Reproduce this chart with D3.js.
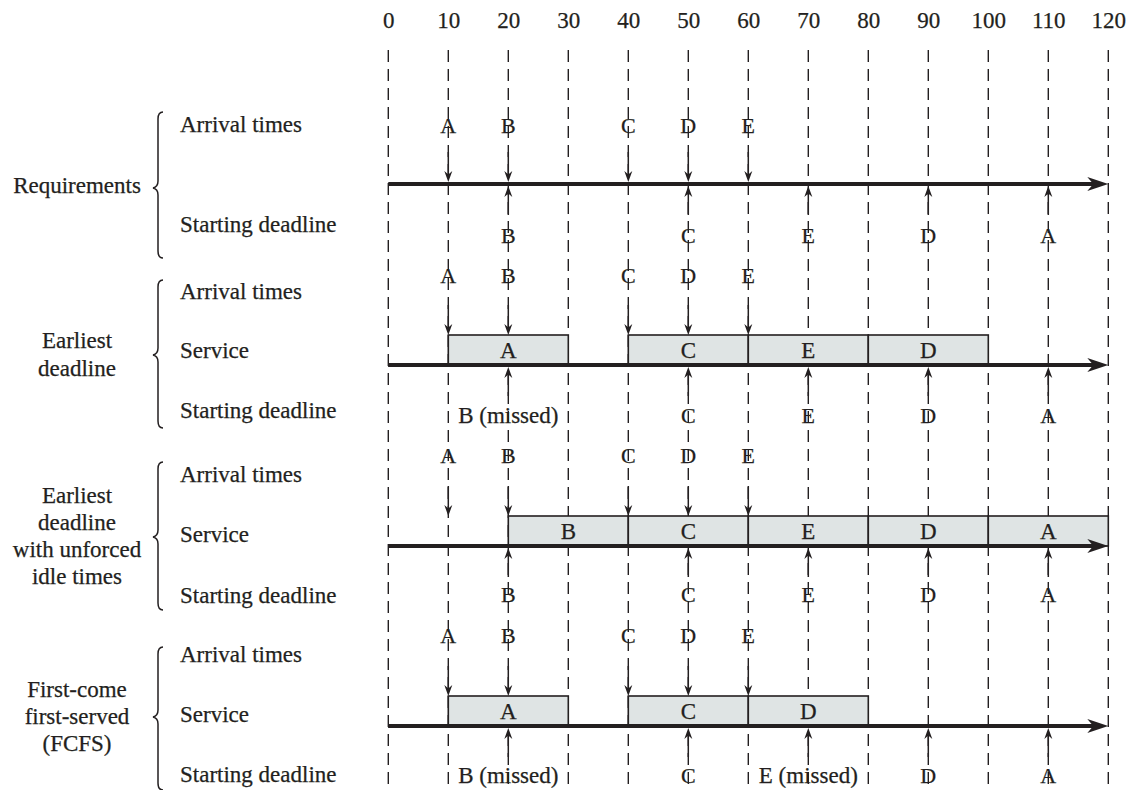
<!DOCTYPE html>
<html><head><meta charset="utf-8">
<script src="https://cdn.jsdelivr.net/npm/d3@7"></script>
<style>body{margin:0;background:#fff;} svg{display:block;} text{font-family:"Liberation Serif","Times New Roman",serif;fill:#231f20;stroke:#231f20;stroke-width:0.25;}</style>
</head><body><svg id="c" width="1133" height="790"></svg>
<script>
// ---------- data ----------
const tickLabels = [0,10,20,30,40,50,60,70,80,90,100,110,120];
const arrivalJobs = ["A","B","C","D","E"];
const arrivalTimes = [10,20,40,50,60];
const deadlineTimes = [20,50,70,90,110];
const reqDeadlineLabels  = ["B","C","E","D","A"];
const edDeadlineLabels   = ["B (missed)","C","E","D","A"];
const eduDeadlineLabels  = ["B","C","E","D","A"];
const fcfsDeadlineLabels = ["B (missed)","C","E (missed)","D","A"];
const edServiceJobs  = ["A","C","E","D"];
const edServiceStart = [10,40,60,80];
const edServiceEnd   = [30,60,80,100];
const eduServiceJobs  = ["B","C","E","D","A"];
const eduServiceStart = [20,40,60,80,100];
const eduServiceEnd   = [40,60,80,100,120];
const fcfsServiceJobs  = ["A","C","D"];
const fcfsServiceStart = [10,40,60];
const fcfsServiceEnd   = [30,60,80];
const groupNames = [["Requirements"],["Earliest","deadline"],["Earliest","deadline","with unforced","idle times"],["First-come","first-served","(FCFS)"]];
const rowNames = [["Arrival times","Starting deadline"],["Arrival times","Service","Starting deadline"],["Arrival times","Service","Starting deadline"],["Arrival times","Service","Starting deadline"]];

// ---------- layout ----------
const ink = "#231f20", barFill = "#dfe4e4";
const FS = 23;
const sections = [
  {axis:184, arrLab:133, dlLab:243, rows:[132,232], brace:[112,258], tip:188, groupY:[193], service:null, dl:reqDeadlineLabels},
  {axis:365, arrLab:283, dlLab:423, rows:[299,358,418], brace:[280,428], tip:355, groupY:[348,376], service:[edServiceJobs,edServiceStart,edServiceEnd], dl:edDeadlineLabels},
  {axis:546, arrLab:463, dlLab:602, rows:[482,542,603], brace:[462,610], tip:537, groupY:[503,530,557,584], service:[eduServiceJobs,eduServiceStart,eduServiceEnd], dl:eduDeadlineLabels},
  {axis:726, arrLab:643, dlLab:783, rows:[662,722,782], brace:[647,790], tip:717, groupY:[697,724,751], service:[fcfsServiceJobs,fcfsServiceStart,fcfsServiceEnd], dl:fcfsDeadlineLabels}
];
const x = d3.scaleLinear().domain([0,120]).range([388.3,1108.3]);
const svg = d3.select("#c");

// top axis labels
const ax = svg.append("g").attr("transform","translate(0,28)")
  .call(d3.axisTop(x).tickValues(tickLabels).tickSize(0).tickPadding(0).tickFormat(d3.format("d")));
ax.select(".domain").remove();
ax.selectAll("text").attr("font-size",FS).attr("font-family","Liberation Serif").attr("fill",ink).attr("stroke",ink).attr("stroke-width",0.25).attr("dy",0);

const gText = svg.append("g"), gDash = svg.append("g"), gBars = svg.append("g"), gAxis = svg.append("g"), gArr = svg.append("g");

function head(g, tx, ty, dir){ // dir: 1 pointing down, -1 pointing up
  const L=11, W=4, N=3.5;
  g.append("path").attr("d",`M${tx},${ty} L${tx-W},${ty-dir*L} L${tx},${ty-dir*(L-N)} L${tx+W},${ty-dir*L} Z`).attr("fill",ink);
}

sections.forEach((s,i)=>{
  groupNames[i].forEach((t,j)=> gText.append("text").attr("x",77).attr("y",s.groupY[j]).attr("text-anchor","middle").attr("font-size",FS).text(t));
  rowNames[i].forEach((t,j)=> gText.append("text").attr("x",180).attr("y",s.rows[j]).attr("font-size",FS).text(t));
  const bx=158, [t0,t1]=s.brace, tp=s.tip;
  gText.append("path").attr("d",`M${bx+5},${t0} Q${bx},${t0} ${bx},${t0+7} L${bx},${tp-7} Q${bx},${tp-1} ${bx-5},${tp} Q${bx},${tp+1} ${bx},${tp+7} L${bx},${t1-7} Q${bx},${t1} ${bx+5},${t1}`)
    .attr("fill","none").attr("stroke",ink).attr("stroke-width",1.5);
  arrivalJobs.forEach((j,k)=> gText.append("text").attr("x",x(arrivalTimes[k])).attr("y",s.arrLab).attr("text-anchor","middle").attr("font-size",FS-1).text(j));
  s.dl.forEach((j,k)=> gText.append("text").attr("x",x(deadlineTimes[k])).attr("y",s.dlLab).attr("text-anchor","middle").attr("font-size",j.length>1?FS:FS-1).text(j));
  const ay=s.axis;
  gAxis.append("line").attr("x1",x(0)).attr("x2",x(120)-12).attr("y1",ay).attr("y2",ay).attr("stroke",ink).attr("stroke-width",4);
  gAxis.append("path").attr("d",`M${x(120)},${ay} L${x(120)-21},${ay-7} L${x(120)-15},${ay} L${x(120)-21},${ay+7} Z`).attr("fill",ink);
  if(s.service){
    const [jobs,st,en]=s.service;
    jobs.forEach((j,k)=>{
      gBars.append("rect").attr("x",x(st[k])).attr("y",ay-30).attr("width",x(en[k])-x(st[k])).attr("height",30)
        .attr("fill",barFill).attr("stroke",ink).attr("stroke-width",1.6);
      gBars.append("text").attr("x",(x(st[k])+x(en[k]))/2).attr("y",ay-7).attr("text-anchor","middle").attr("font-size",FS).text(j);
    });
    gBars.append("line").attr("x1",x(0)).attr("x2",x(120)-12).attr("y1",ay).attr("y2",ay).attr("stroke",ink).attr("stroke-width",4);
  }
  const arrEnd = s.service ? ay-30 : ay-2;
  arrivalTimes.forEach(t=>{
    gArr.append("line").attr("x1",x(t)).attr("x2",x(t)).attr("y1",arrEnd-30).attr("y2",arrEnd-4).attr("stroke",ink).attr("stroke-width",1.5);
    head(gArr,x(t),arrEnd,1);
  });
  deadlineTimes.forEach(t=>{
    gArr.append("line").attr("x1",x(t)).attr("x2",x(t)).attr("y1",ay+6).attr("y2",ay+31).attr("stroke",ink).attr("stroke-width",1.5);
    head(gArr,x(t),ay+2,-1);
  });
});

gDash.selectAll("line").data(tickLabels).join("line")
  .attr("x1",d=>x(d)).attr("x2",d=>x(d)).attr("y1",50).attr("y2",790)
  .attr("stroke",ink).attr("stroke-width",1.4).attr("stroke-dasharray","12,7");
</script></body></html>
